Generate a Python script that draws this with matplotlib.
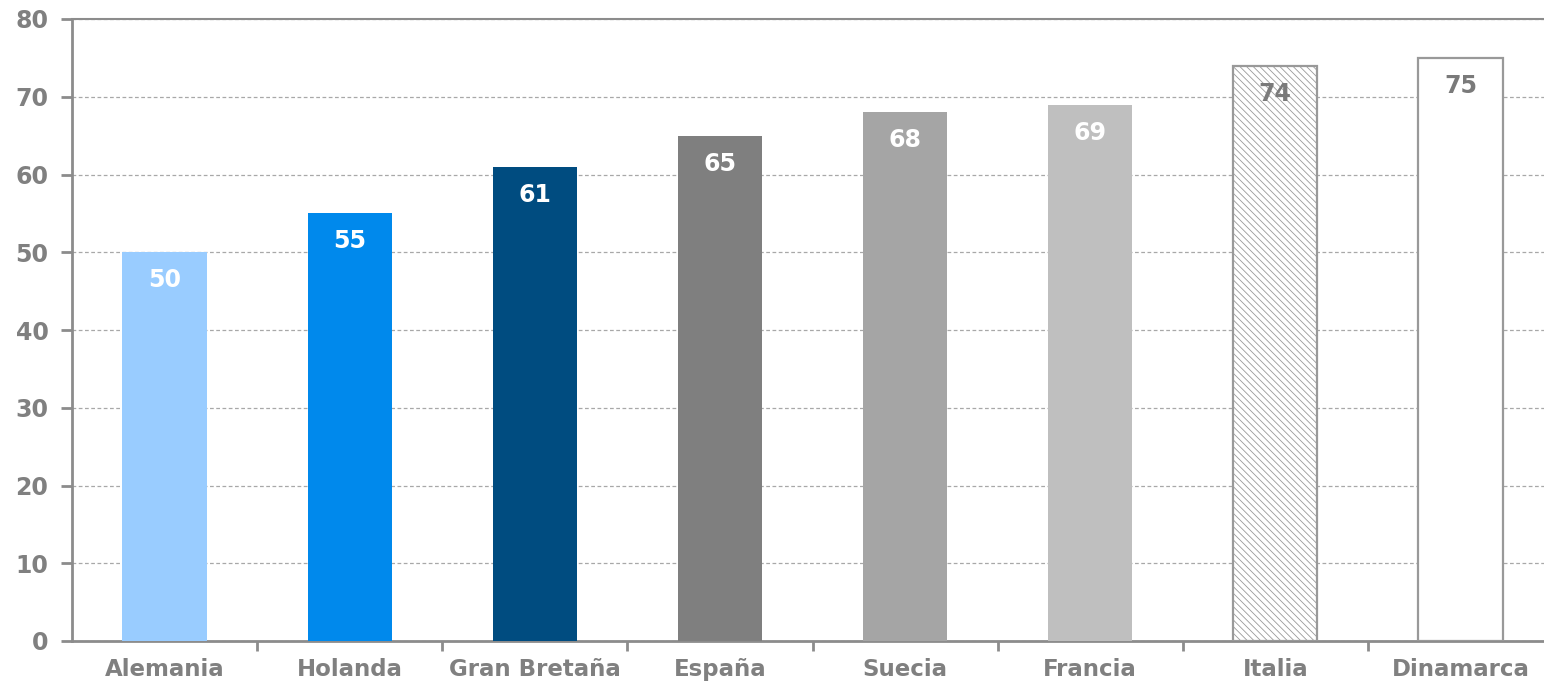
#!/usr/bin/env python3

import matplotlib
matplotlib.use("Agg")
import matplotlib.pyplot as plt

paises = ["Alemania", "Holanda", "Gran Bretaña", "España", "Suecia",
          "Francia", "Italia", "Dinamarca"]
valores = [50, 55, 61, 65, 68, 69, 74, 75]
colores = ["#99CCFF", "#0089EC", "#004C80", "#7F7F7F", "#A5A5A5",
           "#BFBFBF", "white", "white"]
tramas = ["", "", "", "", "", "", "\\\\\\\\\\", ""]
color_texto = ["white"] * 6 + ["#7A7A7A", "#7A7A7A"]

GRIS = "#8C8C8C"
plt.rcParams["hatch.linewidth"] = 0.6


def grafico():
    fig = plt.figure(figsize=(15.44, 6.85), dpi=100)
    ax = fig.add_axes([72 / 1544, 1 - 641 / 685, (1553 - 72) / 1544, (641 - 19) / 685])

    x = list(range(len(paises)))
    for i in x:
        sin_relleno = colores[i] == "white"
        ax.bar(i, valores[i], width=0.455, color=colores[i],
               edgecolor="#999999" if sin_relleno else colores[i],
               linewidth=1.6 if sin_relleno else 0,
               hatch=tramas[i] or None, zorder=3)
        ax.text(i, valores[i] - 3.6, str(valores[i]), ha="center", va="center",
                color=color_texto[i], fontsize=17, fontweight="bold",
                family="DejaVu Sans", zorder=4)

    ax.set_xlim(-0.5, len(paises) - 0.5)
    ax.set_ylim(0, 80)
    ax.set_yticks(range(0, 81, 10))
    ax.set_xticks(x)
    ax.set_xticklabels(paises)
    ax.set_xticks([i + 0.5 for i in x], minor=True)

    ax.yaxis.grid(True, linestyle=(0, (3, 2)), color="#A8A8A8", linewidth=0.9, zorder=0)
    ax.tick_params(axis="x", which="major", length=0, pad=12)
    ax.tick_params(axis="x", which="minor", length=7, width=2, color=GRIS, direction="out")
    ax.tick_params(axis="y", length=8, width=2, color=GRIS, pad=9)
    for lab in ax.get_xticklabels():
        lab.set_fontsize(16.5)
    for lab in ax.get_yticklabels():
        lab.set_fontsize(17)
    for lab in ax.get_xticklabels() + ax.get_yticklabels():
        lab.set_fontweight("bold")
        lab.set_color("#808080")

    for lado in ["left", "bottom", "top"]:
        ax.spines[lado].set_color(GRIS)
        ax.spines[lado].set_linewidth(2)
    ax.spines["top"].set_linewidth(1.5)
    ax.spines["right"].set_visible(False)

    fig.savefig("out.png", dpi=100)


if __name__ == "__main__":
    grafico()
